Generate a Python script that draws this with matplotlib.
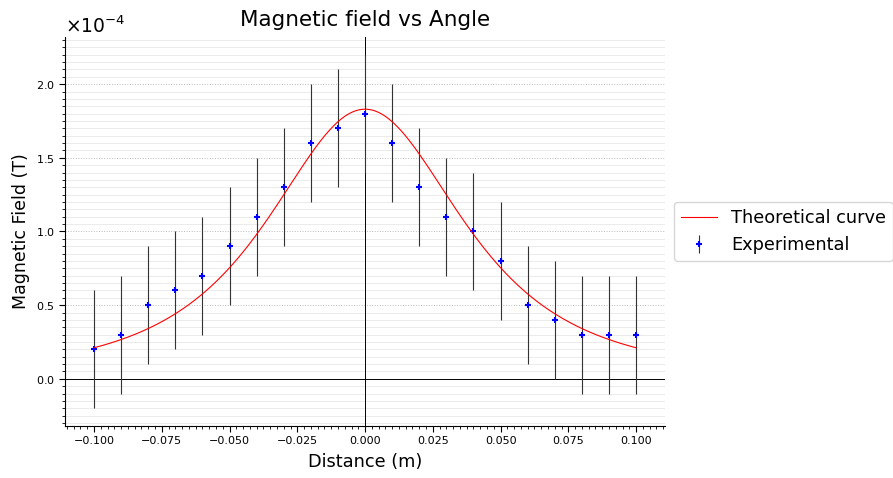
import numpy as np
import matplotlib.pyplot as plt
from matplotlib.ticker import AutoMinorLocator

# measured field along the coil axis
distance = [-0.10, -0.09, -0.08, -0.07, -0.06, -0.05, -0.04, -0.03, -0.02, -0.01, 0.00,
            0.01, 0.02, 0.03, 0.04, 0.05, 0.06, 0.07, 0.08, 0.09, 0.10]
field = [0.2e-4, 0.3e-4, 0.5e-4, 0.6e-4, 0.7e-4, 0.9e-4, 1.1e-4, 1.3e-4, 1.6e-4, 1.7e-4, 1.8e-4,
         1.6e-4, 1.3e-4, 1.1e-4, 1.0e-4, 0.8e-4, 0.5e-4, 0.4e-4, 0.3e-4, 0.3e-4, 0.3e-4]
field_err = 0.4e-4

# coil model: B(x) = B0 * (R^2 / (R^2 + x^2))^(3/2)
B_center = 1.83e-4
coil_radius = 0.0557

x_th = np.linspace(-0.1, 0.1, 400)
B_th = B_center * (coil_radius**2 / (coil_radius**2 + x_th**2)) ** 1.5

fig = plt.figure(figsize=(8.93, 4.78), dpi=100)
ax = fig.add_axes([0.0728, 0.1088, 0.672, 0.8138])

ax.plot(x_th, B_th, color='red', lw=0.8, label='Theoretical curve', zorder=3)
ax.errorbar(distance, field, yerr=field_err, fmt='+', color='blue', ms=5, mew=1.5,
            ecolor='#333333', elinewidth=0.8, label='Experimental', zorder=2)
ax.axhline(0, color='black', lw=0.7, zorder=1)
ax.axvline(0, color='black', lw=0.7, zorder=1)

ax.set_xlim(-0.1107, 0.1107)
ax.set_ylim(-0.32e-4, 2.32e-4)

ax.spines['top'].set_visible(False)
ax.spines['right'].set_visible(False)

ax.ticklabel_format(axis='y', style='sci', scilimits=(0, 0), useMathText=True)
ax.xaxis.set_minor_locator(AutoMinorLocator(10))
ax.yaxis.set_minor_locator(AutoMinorLocator(10))
ax.tick_params(which='major', labelsize=8, length=4)
ax.tick_params(which='minor', length=2)
ax.yaxis.get_offset_text().set_fontsize(13.5)

ax.grid(which='major', axis='y', color='#bbbbbb', linestyle=':', lw=0.7)
ax.grid(which='minor', axis='y', color='#e8e8e8', linestyle='-', lw=0.6)
ax.set_axisbelow(True)

ax.set_title('Magnetic field vs Angle', fontsize=15.5, pad=8)
ax.set_xlabel('Distance (m)', fontsize=12.8, labelpad=5)
ax.set_ylabel('Magnetic Field (T)', fontsize=12.5, labelpad=4)
ax.legend(loc='center left', bbox_to_anchor=(1.0, 0.5), fontsize=12.8)

fig.savefig('out.png')
